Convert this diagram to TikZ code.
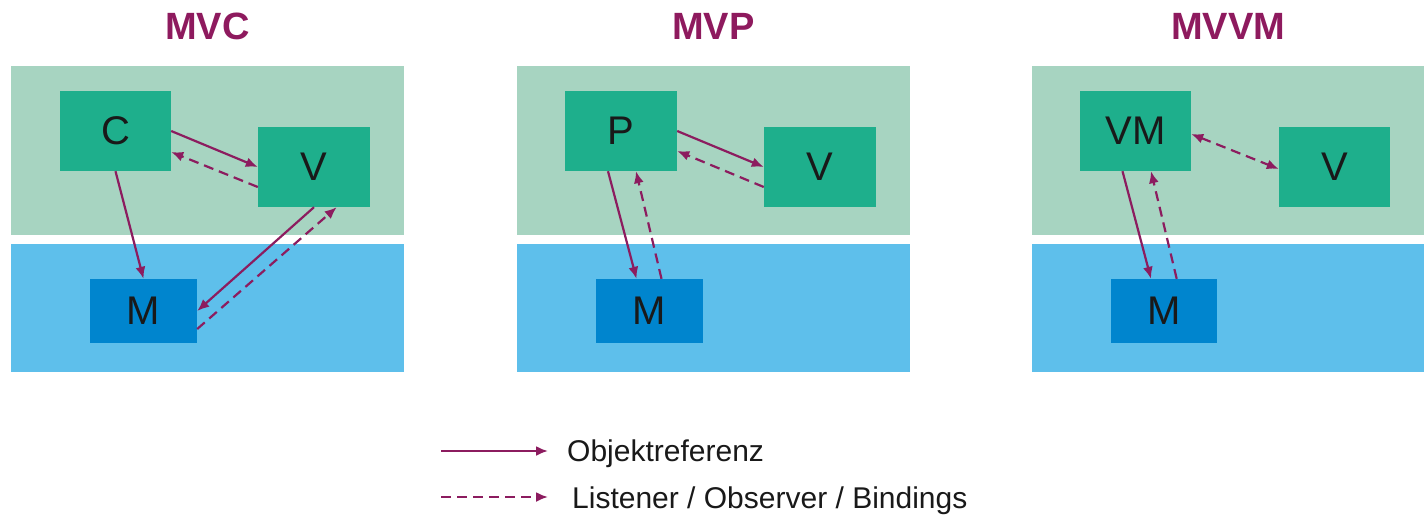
\documentclass[tikz,border=0pt]{standalone}
\usepackage{fontspec}
\setmainfont{Liberation Sans}
\usetikzlibrary{arrows.meta,calc}
\definecolor{bgGreen}{HTML}{A7D4C1}
\definecolor{boxGreen}{HTML}{1EAF8C}
\definecolor{bgBlue}{HTML}{5EBFEB}
\definecolor{boxBlue}{HTML}{0085CE}
\definecolor{arrPurple}{HTML}{8C1C5F}
\definecolor{ttlPurple}{HTML}{8E1A5E}
\tikzset{
  gbox/.style={fill=boxGreen, draw=none, inner sep=0pt, minimum height=80pt, font=\fontsize{40}{44}\selectfont, text=black!90},
  mbox/.style={fill=boxBlue, draw=none, inner sep=0pt, minimum height=64pt, font=\fontsize{40}{44}\selectfont, text=black!90},
  ttl/.style={anchor=base, text=ttlPurple, font=\fontsize{38}{42}\selectfont\bfseries},
  tip/.tip={Latex[length=12pt,width=10pt]},
  ref/.style={draw=arrPurple, line width=2.2pt, -tip},
  lis/.style={ref, dash pattern=on 10pt off 6pt},
  lgd/.style={anchor=base west, font=\fontsize{30}{34}\selectfont, text=black!90, inner sep=0pt}
}
\begin{document}
\begin{tikzpicture}[x=1pt,y=-1pt]
\useasboundingbox (0,0) rectangle (1428,520);
% panel backgrounds
\foreach \xa/\xb in {11/404, 517/910, 1032/1424}{
  \fill[bgGreen] (\xa,66) rectangle (\xb,234.5);
  \fill[bgBlue] (\xa,244) rectangle (\xb,372);
}
% titles
\node[ttl] (t1) at (207.5,39) {MVC};
\node[ttl] (t2) at (713.5,39) {MVP};
\node[ttl] (t3) at (1228,39) {MVVM};
% MVC
\node[gbox, minimum width=111pt] (C) at (115.5,131) {C};
\node[gbox, minimum width=112pt] (V1) at (314,167) {V};
\node[mbox, minimum width=107pt] (M1) at (143.5,311) {M};
\draw[ref] (C.east) -- (V1.west);
\draw[lis] ($(V1.west)+(0,20)$) -- ($(C.east)+(0,21)$);
\draw[ref] (C.south) -- (M1.north);
\draw[ref] (V1.south) -- (M1.east);
\draw[lis] ($(M1.east)+(0,18)$) -- ($(V1.south)+(22.7,0)$);
% MVP
\node[gbox, minimum width=112pt] (P) at (621,131) {P};
\node[gbox, minimum width=112pt] (V2) at (820,167) {V};
\node[mbox, minimum width=107pt] (M2) at (649.5,311) {M};
\draw[ref] (P.east) -- (V2.west);
\draw[lis] ($(V2.west)+(0,20)$) -- ($(P.east)+(0,20)$);
\draw[ref] ($(P.south)+(-13,0)$) -- ($(M2.north)+(-13,0)$);
\draw[lis] ($(M2.north)+(12,0)$) -- ($(P.south)+(15,0)$);
% MVVM
\node[gbox, minimum width=111pt] (VM) at (1135.5,131) {VM};
\node[gbox, minimum width=111pt] (V3) at (1334.5,167) {V};
\node[mbox, minimum width=106pt] (M3) at (1164,311) {M};
\draw[lis, tip-tip] ($(VM.east)+(0,3)$) -- ($(V3.west)+(0,2)$);
\draw[ref] ($(VM.south)+(-13,0)$) -- ($(M3.north)+(-13,0)$);
\draw[lis] ($(M3.north)+(12.7,0)$) -- ($(VM.south)+(15.5,0)$);
% legend
\coordinate (l1a) at (441,451);
\coordinate (l1b) at (548,451);
\coordinate (l2a) at (441,497);
\coordinate (l2b) at (548,497);
\draw[ref] (l1a) -- (l1b);
\draw[lis] (l2a) -- (l2b);
\node[lgd] (lt1) at (567,461.5) {Objektreferenz};
\node[lgd] (lt2) at (572,508) {Listener / Observer / Bindings};
\end{tikzpicture}
\end{document}
